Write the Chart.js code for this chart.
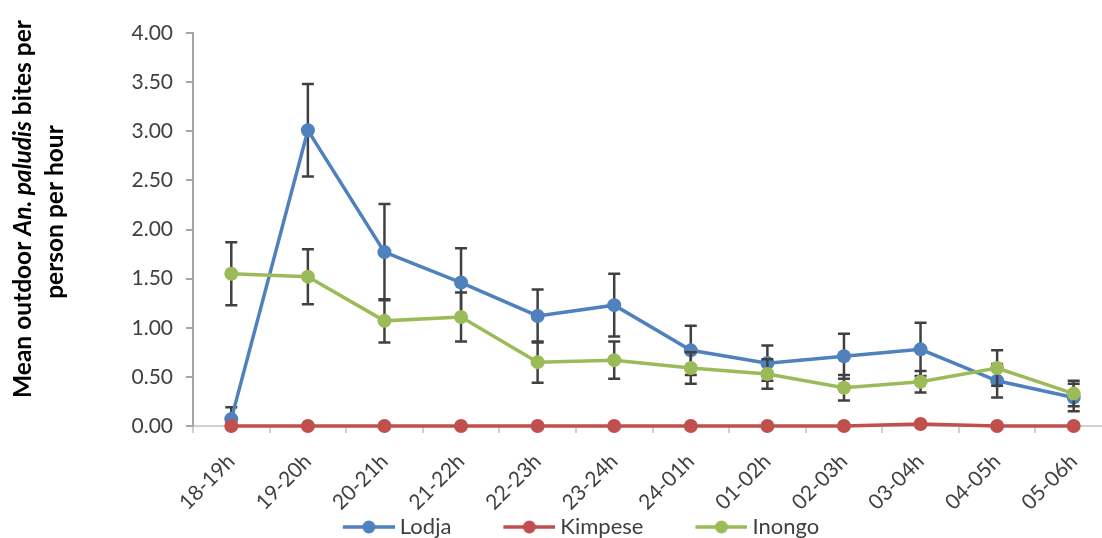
<!DOCTYPE html>
<html>
<head>
<meta charset="utf-8">
<script src="https://cdn.jsdelivr.net/npm/chart.js@4/dist/chart.umd.min.js"></script>
<style>
    html, body { margin: 0; padding: 0; background: #fff; overflow: hidden; }
    #wrap { width: 1150px; height: 548px; }
</style>
</head>
<body>
<div id="wrap"><canvas id="chart" width="1150" height="548"></canvas></div>
<script>
(function() {
    'use strict';

    // data
    var hours = ['18-19h', '19-20h', '20-21h', '21-22h', '22-23h', '23-24h',
                 '24-01h', '01-02h', '02-03h', '03-04h', '04-05h', '05-06h'];
    var lodja      = [0.07, 3.01, 1.77, 1.46, 1.12, 1.23, 0.77, 0.64, 0.71, 0.78, 0.46, 0.29];
    var lodjaErr   = [0.12, 0.47, 0.49, 0.35, 0.27, 0.32, 0.25, 0.18, 0.23, 0.27, 0.17, 0.14];
    var kimpese    = [0, 0, 0, 0, 0, 0, 0, 0, 0, 0.02, 0, 0];
    var inongo     = [1.55, 1.52, 1.07, 1.11, 0.65, 0.67, 0.59, 0.53, 0.39, 0.45, 0.59, 0.33];
    var inongoErr  = [0.32, 0.28, 0.22, 0.25, 0.21, 0.19, 0.16, 0.15, 0.13, 0.11, 0.18, 0.13];
    var yTicks     = [0, 0.5, 1, 1.5, 2, 2.5, 3, 3.5, 4];
    var yTitle1    = [['Mean outdoor ', ''], ['An. paludis', 'italic '], [' bites per', '']];
    var yTitle2    = [['person per hour', '']];

    var FONT = 'Lato';
    var TEXT = '#404040';

    // legend swatch: transparent lead-in (acts as item gap) then line + dot
    function legendMark(color) {
        var c = document.createElement('canvas');
        c.width = 110;
        c.height = 16;
        var g = c.getContext('2d');
        g.strokeStyle = color;
        g.lineWidth = 3.5;
        g.beginPath();
        g.moveTo(58, 8);
        g.lineTo(110, 8);
        g.stroke();
        g.fillStyle = color;
        g.beginPath();
        g.arc(84, 8, 6.5, 0, Math.PI * 2);
        g.fill();
        return c;
    }

    // excel-style error bars, drawn just under each series
    var errorBars = {
        id: 'errorBars',
        beforeDatasetDraw: function(chart, args) {
            var ds = chart.data.datasets[args.index];
            if (!ds.errors) return;
            var ctx = chart.ctx,
                xs = chart.scales.x,
                ys = chart.scales.y;
            ctx.save();
            ctx.strokeStyle = '#404040';
            ctx.lineWidth = 2.5;
            ds.data.forEach(function(v, i) {
                var e = ds.errors[i];
                var px = xs.getPixelForValue(i);
                var top = ys.getPixelForValue(v + e);
                var bot = ys.getPixelForValue(Math.max(v - e, 0));
                ctx.beginPath();
                ctx.moveTo(px, top);
                ctx.lineTo(px, bot);
                ctx.moveTo(px - 6, top);
                ctx.lineTo(px + 6, top);
                if (v - e >= 0) {
                    ctx.moveTo(px - 6, bot);
                    ctx.lineTo(px + 6, bot);
                }
                ctx.stroke();
            });
            ctx.restore();
        }
    };

    function drawRotated(ctx, parts, baseX, centerY, size) {
        ctx.save();
        ctx.translate(baseX, centerY);
        ctx.rotate(-Math.PI / 2);
        ctx.fillStyle = '#000';
        ctx.textAlign = 'left';
        ctx.textBaseline = 'alphabetic';
        var total = 0;
        parts.forEach(function(p) {
            ctx.font = p[1] + 'bold ' + size + 'px ' + FONT;
            total += ctx.measureText(p[0]).width;
        });
        var x = -total / 2;
        parts.forEach(function(p) {
            ctx.font = p[1] + 'bold ' + size + 'px ' + FONT;
            ctx.fillText(p[0], x, 0);
            x += ctx.measureText(p[0]).width;
        });
        ctx.restore();
    }

    var yAxisTitle = {
        id: 'yAxisTitle',
        afterLayout: function(chart) {
            // nudge legend so the visible items sit where the original has them
            chart.legend.left -= 1;
            chart.legend.right -= 1;
        },
        afterDraw: function(chart) {
            drawRotated(chart.ctx, yTitle1, 31, 209, 24.5);
            drawRotated(chart.ctx, yTitle2, 63, 212, 24.5);
        }
    };

    var series = [
        { label: 'Lodja',   data: lodja,   errors: lodjaErr,  color: '#4F81BD', order: 3 },
        { label: 'Kimpese', data: kimpese, errors: null,      color: '#C0504D', order: 2 },
        { label: 'Inongo',  data: inongo,  errors: inongoErr, color: '#9BBB59', order: 1 }
    ];

    var datasets = series.map(function(s) {
        return {
            label: s.label,
            data: s.data,
            errors: s.errors,
            order: s.order,
            borderColor: s.color,
            backgroundColor: s.color,
            pointBackgroundColor: s.color,
            pointBorderColor: s.color,
            borderWidth: 3.5,
            pointRadius: 7,
            pointBorderWidth: 0,
            tension: 0,
            clip: false
        };
    });

    new Chart(document.getElementById('chart'), {
        type: 'line',
        data: { labels: hours, datasets: datasets },
        plugins: [errorBars, yAxisTitle],
        options: {
            responsive: false,
            animation: false,
            devicePixelRatio: 1,
            layout: { padding: { top: 33, left: 0, right: 38, bottom: 0 } },
            plugins: {
                tooltip: { enabled: false },
                legend: {
                    position: 'bottom',
                    labels: {
                        usePointStyle: true,
                        pointStyleWidth: 98,
                        padding: 0,
                        color: TEXT,
                        font: { family: FONT, size: 22 },
                        sort: function(a, b) { return a.datasetIndex - b.datasetIndex; },
                        generateLabels: function(chart) {
                            var items = Chart.defaults.plugins.legend.labels.generateLabels(chart);
                            items.forEach(function(it) {
                                it.pointStyle = legendMark(series[it.datasetIndex].color);
                            });
                            return items;
                        }
                    }
                }
            },
            scales: {
                x: {
                    offset: true,
                    grid: { offset: true, drawOnChartArea: false, tickLength: 7, color: '#d0d0d0', lineWidth: 2 },
                    border: { color: '#d0d0d0', width: 2 },
                    ticks: {
                        autoSkip: false,
                        minRotation: 45,
                        maxRotation: 45,
                        labelOffset: 0,
                        padding: 16,
                        color: TEXT,
                        font: { family: FONT, size: 21 }
                    },
                    afterFit: function(s) { s.height = 90; }
                },
                y: {
                    min: 0,
                    max: 4,
                    afterBuildTicks: function(s) {
                        s.ticks = yTicks.map(function(v) { return { value: v }; });
                    },
                    ticks: {
                        padding: 13,
                        color: TEXT,
                        font: { family: FONT, size: 21 },
                        callback: function(v) { return Number(v).toFixed(2); }
                    },
                    grid: { drawOnChartArea: false, tickLength: 7, color: '#a6a6a6', lineWidth: 2 },
                    border: { color: '#a6a6a6', width: 2 },
                    afterFit: function(s) { s.width = 193; }
                }
            }
        }
    });
})();
</script>
</body>
</html>
